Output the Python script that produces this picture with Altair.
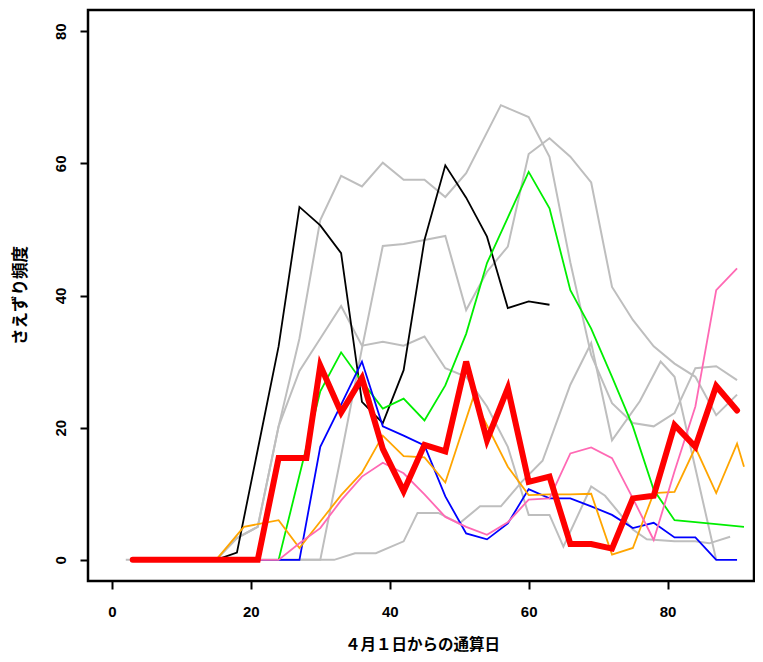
import altair as alt
import pandas as pd

# ---- data ----
black_days = [3, 6, 9, 12, 15, 18, 21, 24, 27, 30, 33, 36, 39, 42, 45, 48, 51, 54, 57, 60, 63]
black_vals = [0, 0, 0, 0, 0, 1.1, 16.7, 32.3, 53.4, 50.6, 46.4, 23.9, 20.7, 28.7, 48.4, 59.7, 54.8, 48.9, 38.1, 39.1, 38.6]

green_days = [3, 6, 9, 12, 15, 18, 21, 24, 27, 30, 33, 36, 39, 42, 45, 48, 51, 54, 57, 60, 63, 66, 69, 72, 75, 78, 81, 84, 87, 91]
green_vals = [0, 0, 0, 0, 0, 0, 0, 0, 12.8, 25.5, 31.4, 27.0, 22.9, 24.4, 21.1, 26.4, 34.2, 44.9, 51.8, 58.7, 53.2, 40.8, 35.0, 27.7, 20.2, 10.6, 6.0, 5.7, 5.4, 5.0]

blue_days = [3, 6, 9, 12, 15, 18, 21, 24, 27, 30, 33, 36, 39, 42, 45, 48, 51, 54, 57, 60, 63, 66, 69, 72, 75, 78, 81, 84, 87, 90]
blue_vals = [0, 0, 0, 0, 0, 0, 0, 0, 0, 17.1, 23.5, 30.0, 20.2, 18.8, 17.3, 9.6, 4.0, 3.1, 5.5, 10.7, 9.3, 9.3, 8.1, 6.8, 4.8, 5.6, 3.4, 3.4, 0, 0]

orange_days = [3, 6, 9, 12, 15, 19, 24, 27, 30, 33, 36, 39, 42, 45, 48, 52, 57, 60, 63, 66, 69, 72, 75, 78, 81, 84, 87, 90, 91]
orange_vals = [0, 0, 0, 0, 0, 5.0, 6.0, 1.8, 5.8, 9.8, 13.2, 18.8, 15.7, 15.5, 11.7, 24.5, 14.1, 9.8, 9.9, 9.9, 10.0, 0.8, 1.8, 10.1, 10.3, 17.0, 10.1, 17.6, 14.1]

pink_days = [3, 6, 9, 12, 15, 18, 21, 24, 27, 30, 33, 36, 39, 42, 45, 48, 51, 54, 57, 60, 63, 66, 69, 72, 75, 78, 81, 84, 87, 90]
pink_vals = [0, 0, 0, 0, 0, 0, 0, 0, 2.5, 4.8, 9.0, 12.6, 14.7, 13.1, 9.9, 6.5, 5.0, 3.8, 5.7, 9.1, 9.3, 16.1, 17.0, 15.4, 9.3, 3.0, 13.4, 23.2, 40.8, 44.1]

red_days = [3, 6, 9, 12, 15, 18, 21, 24, 28, 30, 33, 36, 39, 42, 45, 48, 51, 54, 57, 60, 63, 66, 69, 72, 75, 78, 81, 84, 87, 90]
red_vals = [0, 0, 0, 0, 0, 0, 0, 15.4, 15.4, 29.4, 22.3, 27.5, 16.8, 10.4, 17.4, 16.4, 30.0, 18.1, 26.0, 11.8, 12.6, 2.4, 2.4, 1.7, 9.3, 9.7, 20.4, 17.1, 26.3, 22.6]

greyA_days = [3, 6, 9, 12, 15, 18, 21, 24, 27, 30, 33, 36, 39, 42, 45, 48, 51, 56, 60, 63, 66, 69, 72, 75, 78, 81, 84, 87, 90]
greyA_vals = [0, 0, 0, 0, 0, 3.3, 5.0, 20.2, 33.5, 51.4, 58.1, 56.5, 60.1, 57.5, 57.5, 54.9, 58.5, 68.8, 67.0, 61.0, 45.0, 31.0, 23.7, 20.7, 20.2, 22.2, 29.0, 29.3, 27.2]

greyB_days = [3, 6, 9, 12, 15, 18, 21, 24, 27, 30, 33, 36, 39, 42, 45, 48, 51, 54, 57, 60, 63, 65, 69, 71, 75, 77, 81, 84, 86, 89]
greyB_vals = [0, 0, 0, 0, 0, 3.3, 5.0, 20.2, 28.6, 33.5, 38.4, 32.4, 33.0, 32.4, 33.8, 29.0, 27.7, 23.2, 17.1, 6.8, 6.8, 2.0, 11.1, 9.7, 4.6, 3.1, 2.8, 2.8, 2.5, 3.5]

greyC_days = [3, 6, 9, 12, 15, 18, 21, 24, 27, 30, 33, 36, 39, 42, 45, 48, 51, 54, 57, 60, 63, 66, 69, 72, 75, 78, 81, 84, 87, 90]
greyC_vals = [0, 0, 0, 0, 0, 0, 0, 0, 0, 0, 15.8, 32.0, 47.5, 47.8, 48.4, 49.0, 37.8, 43.6, 47.4, 61.4, 63.8, 61.0, 57.1, 41.3, 36.3, 32.3, 29.7, 27.7, 21.9, 25.0]

greyD_days = [2, 6, 9, 12, 15, 18, 21, 24, 27, 32, 35, 38, 42, 44, 47, 50, 53, 56, 59, 62, 66, 69, 72, 76, 79, 81, 87]
greyD_vals = [0, 0, 0, 0, 0, 0, 0, 0, 0, 0, 1.0, 1.0, 2.8, 7.1, 7.1, 5.5, 8.1, 8.1, 11.8, 15.0, 26.5, 32.8, 18.1, 24.0, 30.0, 27.7, 0]

x_ticks = [0, 20, 40, 60, 80]
y_ticks = [0, 20, 40, 60, 80]
x_title = "４月１日からの通算日"
y_title = "さえずり頻度"

grey_series = {"gA": (greyA_days, greyA_vals), "gB": (greyB_days, greyB_vals),
               "gC": (greyC_days, greyC_vals), "gD": (greyD_days, greyD_vals)}
color_series = {"black": (black_days, black_vals), "green": (green_days, green_vals),
                "blue": (blue_days, blue_vals), "orange": (orange_days, orange_vals),
                "pink": (pink_days, pink_vals)}

rows = []
for name, (d, v) in grey_series.items():
    rows += [{"series": name, "kind": "grey", "day": a, "value": b} for a, b in zip(d, v)]
for name, (d, v) in color_series.items():
    rows += [{"series": name, "kind": "color", "day": a, "value": b} for a, b in zip(d, v)]
rows += [{"series": "red", "kind": "red", "day": a, "value": b} for a, b in zip(red_days, red_vals)]
df = pd.DataFrame(rows)

NUM_FONT = "Liberation Sans"
JP_FONT = "Noto Sans CJK JP"

x_enc = alt.X("day:Q", scale=alt.Scale(domain=[-3.44, 92.44], nice=False, zero=False),
              axis=alt.Axis(values=x_ticks, title=x_title, grid=False, domain=False,
                            tickSize=8, tickWidth=2, tickColor="black",
                            labelFont=NUM_FONT, labelFontSize=15, labelFontWeight="bold",
                            labelColor="black", labelPadding=22, labelBaseline="middle",
                            titleFont=JP_FONT, titleFontSize=15.5, titleFontWeight="bold",
                            titleColor="black", titleX=334, titleY=63,
                            titleBaseline="middle", titleAlign="center"))
y_enc = alt.Y("value:Q", scale=alt.Scale(domain=[-3.2, 83.2], nice=False, zero=False),
              axis=alt.Axis(values=y_ticks, title=y_title, grid=False, domain=False,
                            tickSize=8, tickWidth=2, tickColor="black",
                            labelFont=NUM_FONT, labelFontSize=15, labelFontWeight="bold",
                            labelColor="black", labelAngle=270, labelAlign="center",
                            labelBaseline="middle", labelPadding=20,
                            titleFont=JP_FONT, titleFontSize=16.5, titleFontWeight="bold",
                            titleColor="black", titleAngle=270, titleX=-68, titleY=285,
                            titleBaseline="middle", titleAlign="center"))

base = alt.Chart(df)
grey = base.transform_filter(alt.datum.kind == "grey").mark_line(
    color="#BEBEBE", strokeWidth=2).encode(x=x_enc, y=y_enc, detail="series:N")
colored = base.transform_filter(alt.datum.kind == "color").mark_line(strokeWidth=1.8).encode(
    x=x_enc, y=y_enc,
    color=alt.Color("series:N", legend=None,
                    scale=alt.Scale(domain=["black", "green", "blue", "orange", "pink"],
                                    range=["#000000", "#00EE00", "#0000FF", "#FFA500", "#FF69B4"])))
red = base.transform_filter(alt.datum.kind == "red").mark_line(
    color="#FF0000", strokeWidth=6, strokeCap="round", strokeJoin="miter").encode(x=x_enc, y=y_enc)

chart = alt.layer(grey, colored, red).properties(
    width=666, height=571,
    background="white",
    autosize=alt.AutoSizeParams(type="none"),
    padding={"left": 80, "top": 2, "right": 1, "bottom": 73},
).configure_view(stroke="black", strokeWidth=2.5)

chart.save("out.html", embed_options={"renderer": "svg", "actions": False})
